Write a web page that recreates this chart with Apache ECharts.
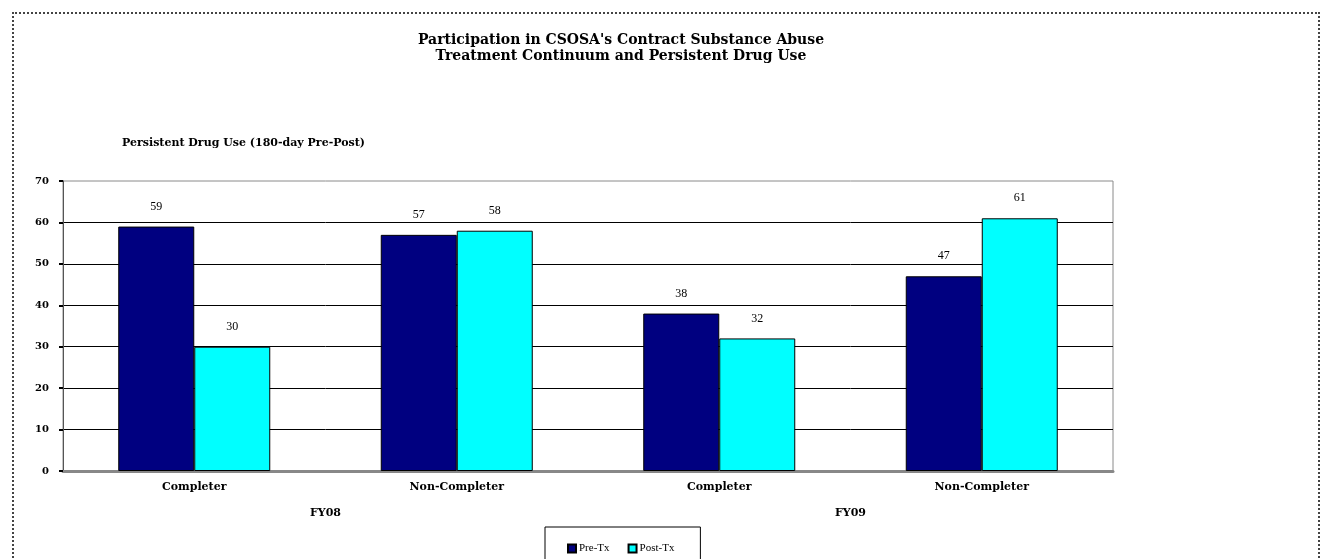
<!DOCTYPE html>
<html>
<head>
<meta charset="utf-8">
<script src="https://cdn.jsdelivr.net/npm/echarts@6/dist/echarts.min.js"></script>
<style>
  html, body { margin: 0; padding: 0; background: #fff; }
  #frame { position: absolute; left: 12px; top: 12px; width: 1304px; height: 560px;
           border-left: 2px dotted #444; border-top: 2px dotted #444; border-right: 2px dotted #444; }
  #chart { position: absolute; left: 0; top: 0; width: 1321px; height: 559px; }
</style>
</head>
<body>
<div id="frame"></div>
<div id="chart"></div>
<script>
// Groups along the x axis and the fiscal year each pair belongs to
const categories = ['Completer', 'Non-Completer', 'Completer', 'Non-Completer'];
const fiscalYears = ['FY08', 'FY09'];
// Persistent drug use before and after treatment
const preTx = [59, 57, 38, 47];
const postTx = [30, 58, 32, 61];
const yTicks = [0, 10, 20, 30, 40, 50, 60, 70];

const heavy = '"DejaVu Serif", serif';
const serif = '"Liberation Serif", "Times New Roman", serif';

const chart = echarts.init(document.getElementById('chart'), null, { renderer: 'canvas' });

const valueLabel = {
  show: true,
  position: 'top',
  distance: 14,
  fontFamily: serif,
  fontSize: 12,
  color: '#000'
};

chart.setOption({
  animation: false,
  backgroundColor: 'transparent',
  title: [
    {
      text: "Participation in CSOSA's Contract Substance Abuse\nTreatment Continuum and Persistent Drug Use",
      left: 616,
      top: 27,
      textAlign: 'center',
      textStyle: { fontFamily: heavy, fontWeight: 'bold', fontSize: 14, lineHeight: 16, color: '#000' }
    },
    {
      text: 'Persistent Drug Use (180-day Pre-Post)',
      left: 117,
      top: 133,
      textStyle: { fontFamily: heavy, fontWeight: 'bold', fontSize: 11, color: '#000' }
    }
  ],
  legend: {
    data: ['Pre-Tx', 'Post-Tx'],
    left: 545,
    top: 527,
    orient: 'horizontal',
    padding: [16, 26, 16, 22],
    itemGap: 18,
    itemWidth: 8,
    itemHeight: 8,
    borderColor: '#000',
    borderWidth: 1,
    backgroundColor: '#fff',
    icon: 'rect',
    textStyle: { fontFamily: serif, fontSize: 11, color: '#000', padding: [0, 0, 0, -2] }
  },
  grid: {
    left: 63,
    right: 208,
    top: 181,
    bottom: 88,
    show: true,
    borderColor: '#8a8a8a',
    borderWidth: 1,
    backgroundColor: '#fff'
  },
  xAxis: [
    {
      type: 'category',
      data: categories,
      position: 'bottom',
      axisLine: { show: true, lineStyle: { color: '#888', width: 3 } },
      axisTick: { show: false },
      axisLabel: { fontFamily: heavy, fontWeight: 'bold', fontSize: 11, color: '#000', margin: 11 }
    },
    {
      type: 'category',
      data: fiscalYears,
      position: 'bottom',
      offset: 26,
      axisLine: { show: false },
      axisTick: { show: false },
      axisLabel: { fontFamily: heavy, fontWeight: 'bold', fontSize: 11, color: '#000', margin: 11 }
    }
  ],
  yAxis: {
    type: 'value',
    min: yTicks[0],
    max: yTicks[yTicks.length - 1],
    interval: 10,
    axisLine: { show: true, lineStyle: { color: '#555', width: 1 } },
    axisTick: { show: true, length: 4, lineStyle: { color: '#000', width: 2 } },
    axisLabel: { fontFamily: heavy, fontWeight: 'bold', fontSize: 10, color: '#000', margin: 14 },
    splitLine: { show: true, showMaxLine: false, lineStyle: { color: '#000', width: 1 } }
  },
  series: [
    {
      name: 'Pre-Tx',
      type: 'bar',
      xAxisIndex: 0,
      data: preTx,
      barWidth: 76,
      barGap: '0%',
      itemStyle: { color: '#000080', borderColor: '#000', borderWidth: 1 },
      label: valueLabel
    },
    {
      name: 'Post-Tx',
      type: 'bar',
      xAxisIndex: 0,
      data: postTx,
      barWidth: 76,
      barGap: '0%',
      itemStyle: { color: '#00FFFF', borderColor: '#000', borderWidth: 1 },
      label: valueLabel
    }
  ]
});
</script>
</body>
</html>
